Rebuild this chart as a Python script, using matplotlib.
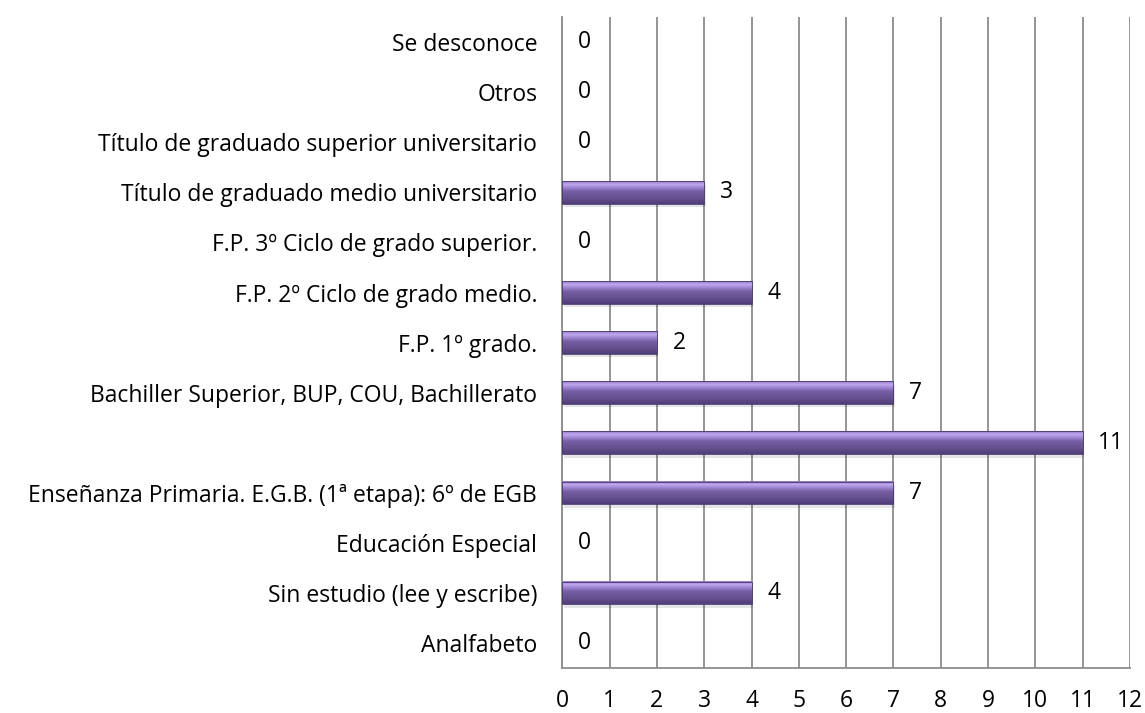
import matplotlib.pyplot as plt
import numpy as np
from matplotlib.colors import LinearSegmentedColormap

# Categories, bottom to top
categories = [
    "Analfabeto",
    "Sin estudio (lee y escribe)",
    "Educación Especial",
    "Enseñanza Primaria. E.G.B. (1ª etapa): 6º de EGB",
    "",
    "Bachiller Superior, BUP, COU, Bachillerato",
    "F.P. 1º grado.",
    "F.P. 2º Ciclo de grado medio.",
    "F.P. 3º Ciclo de grado superior.",
    "Título de graduado medio universitario",
    "Título de graduado superior universitario",
    "Otros",
    "Se desconoce",
]
values = [0, 4, 0, 7, 11, 7, 2, 4, 0, 3, 0, 0, 0]
xticks = list(range(0, 13))

plt.rcParams['font.family'] = ['Open Sans', 'DejaVu Sans']
fs = 16.5

fig = plt.figure(figsize=(11.45, 7.13), dpi=100)
ax = fig.add_axes([0.491, 0.063, 0.496, 0.913])

y = np.arange(len(categories))
bar_h = 0.45

# vertical gradient for the "3D" bar look (top light -> bottom dark)
cmap = LinearSegmentedColormap.from_list(
    "bar", [(0.0, "#4f3d78"), (0.25, "#66508f"), (0.55, "#765ea3"),
            (0.72, "#a086d2"), (0.86, "#c0a8ee"), (1.0, "#9278c2")])
grad = np.linspace(0, 1, 64).reshape(-1, 1)

for yi, v in zip(y, values):
    if v <= 0:
        continue
    # soft shadow below the bar
    ax.barh(yi - 0.07, v, height=bar_h, left=0.03, color="#000000",
            alpha=0.10, zorder=2, linewidth=0)
    ax.imshow(grad, cmap=cmap, aspect="auto", origin="lower",
              extent=(0, v, yi - bar_h / 2, yi + bar_h / 2), zorder=3,
              interpolation="bilinear")
    ax.barh(yi, v, height=bar_h, facecolor="none", edgecolor="#4a3870",
            linewidth=0.6, zorder=4)

for yi, v in zip(y, values):
    ax.text(v + 0.33, yi, str(v), va="center", ha="left", fontsize=fs,
            color="#000000", zorder=5)

ax.set_xlim(0, 12)
ax.set_ylim(-0.5, len(categories) - 0.5)
ax.set_xticks(xticks)
ax.set_yticks(y)
ax.set_yticklabels(categories)
ax.tick_params(axis="both", labelsize=fs, colors="#000000")
ax.tick_params(axis="y", length=0, pad=18)
ax.tick_params(axis="x", length=0, pad=15)

ax.grid(axis="x", color="#8c8c8c", linewidth=1.3, zorder=1)
ax.set_axisbelow(True)
for side in ["top", "right"]:
    ax.spines[side].set_visible(False)
for side in ["left", "bottom"]:
    ax.spines[side].set_color("#8c8c8c")
    ax.spines[side].set_linewidth(1.3)

fig.savefig("out.png", dpi=100)
